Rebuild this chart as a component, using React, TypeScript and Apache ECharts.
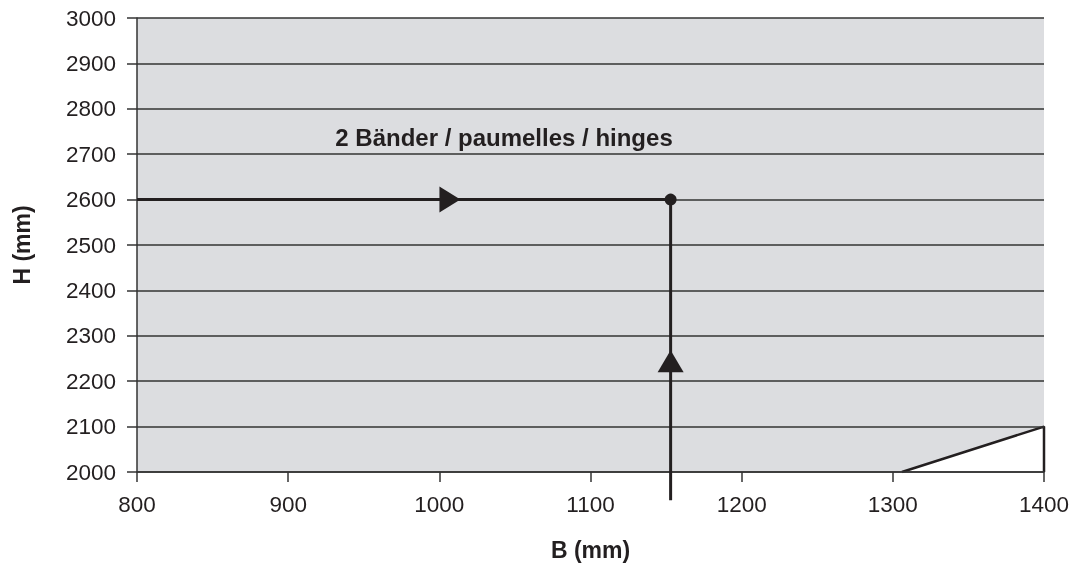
import React, { useEffect, useRef } from "react";
import * as echarts from "echarts";

const boundary: [number, number][] = [
  [1306, 2000],
  [1400, 2100],
  [1400, 2000],
];
const heightLine: [number, number][] = [
  [800, 2600],
  [1153, 2600],
];
const widthLine: [number, number][] = [
  [1153, 1938],
  [1153, 2600],
];
const resultPoint: [number, number][] = [[1153, 2600]];
const rightArrow: [number, number][] = [[1007, 2600]];
const upArrow: [number, number][] = [[1153, 2244]];
const titleText = "2 Bänder / paumelles / hinges";
const xName = "B (mm)";
const yName = "H (mm)";

const FONT = "'Liberation Sans', Arial, Helvetica, sans-serif";
const INK = "#231f20";

export default function App() {
  const ref = useRef<HTMLDivElement>(null);
  useEffect(() => {
    if (!ref.current) return;
    const chart = echarts.init(ref.current, null, { renderer: "svg" });
    chart.setOption({
      animation: false,
      textStyle: { fontFamily: FONT },
      grid: {
        left: 137,
        right: 29,
        top: 18,
        bottom: 107,
        containLabel: false,
        outerBoundsMode: "none",
        show: true,
        backgroundColor: "#dcdde0",
        borderWidth: 0,
      },
      xAxis: {
        type: "value",
        min: 800,
        max: 1400,
        interval: 100,
        z: 3,
        name: xName,
        nameLocation: "middle",
        nameGap: 66,
        nameTextStyle: { fontSize: 23, fontWeight: "bold", color: INK, fontFamily: FONT },
        axisLine: { show: true, lineStyle: { color: "#333", width: 1.5 } },
        axisTick: { show: true, length: 10, lineStyle: { color: "#333", width: 1.5 } },
        axisLabel: { margin: 21, fontSize: 22.5, color: INK, fontFamily: FONT, formatter: (v: number) => String(v) },
        splitLine: { show: false },
      },
      yAxis: {
        type: "value",
        min: 2000,
        max: 3000,
        interval: 100,
        z: 3,
        name: yName,
        nameLocation: "middle",
        nameGap: 104,
        nameTextStyle: { fontSize: 23, fontWeight: "bold", color: INK, fontFamily: FONT },
        axisLine: { show: true, lineStyle: { color: "#333", width: 1.5 } },
        axisTick: { show: true, length: 10, lineStyle: { color: "#333", width: 1.5 } },
        axisLabel: { margin: 21, fontSize: 22.5, color: INK, fontFamily: FONT, formatter: (v: number) => String(v) },
        splitLine: { show: true, lineStyle: { color: "#333", width: 1.5 } },
      },
      graphic: [
        {
          type: "text",
          x: 504,
          y: 137,
          z: 10,
          style: {
            text: titleText,
            fill: INK,
            font: `bold 24px ${FONT}`,
            textAlign: "center",
            textVerticalAlign: "middle",
          },
        },
      ],
      series: [
        {
          type: "line",
          data: boundary,
          symbol: "none",
          lineStyle: { color: INK, width: 2.5 },
          areaStyle: { color: "#ffffff", opacity: 1, origin: "start" },
          z: 2,
        },
        {
          type: "line",
          data: heightLine,
          symbol: "none",
          lineStyle: { color: INK, width: 3 },
          z: 4,
        },
        {
          type: "line",
          data: widthLine,
          symbol: "none",
          clip: false,
          lineStyle: { color: INK, width: 3 },
          z: 4,
        },
        {
          type: "scatter",
          data: resultPoint,
          symbol: "circle",
          symbolSize: 12,
          itemStyle: { color: INK, opacity: 1 },
          z: 5,
        },
        {
          type: "scatter",
          data: rightArrow,
          symbol: "triangle",
          symbolRotate: -90,
          symbolSize: [26, 21],
          itemStyle: { color: INK, opacity: 1 },
          z: 5,
        },
        {
          type: "scatter",
          data: upArrow,
          symbol: "triangle",
          symbolSize: [26, 22],
          itemStyle: { color: INK, opacity: 1 },
          z: 5,
        },
      ],
    });
    return () => chart.dispose();
  }, []);
  return (
    <div
      ref={ref}
      style={{ position: "fixed", left: 0, top: 0, width: 1073, height: 579 }}
    />
  );
}
